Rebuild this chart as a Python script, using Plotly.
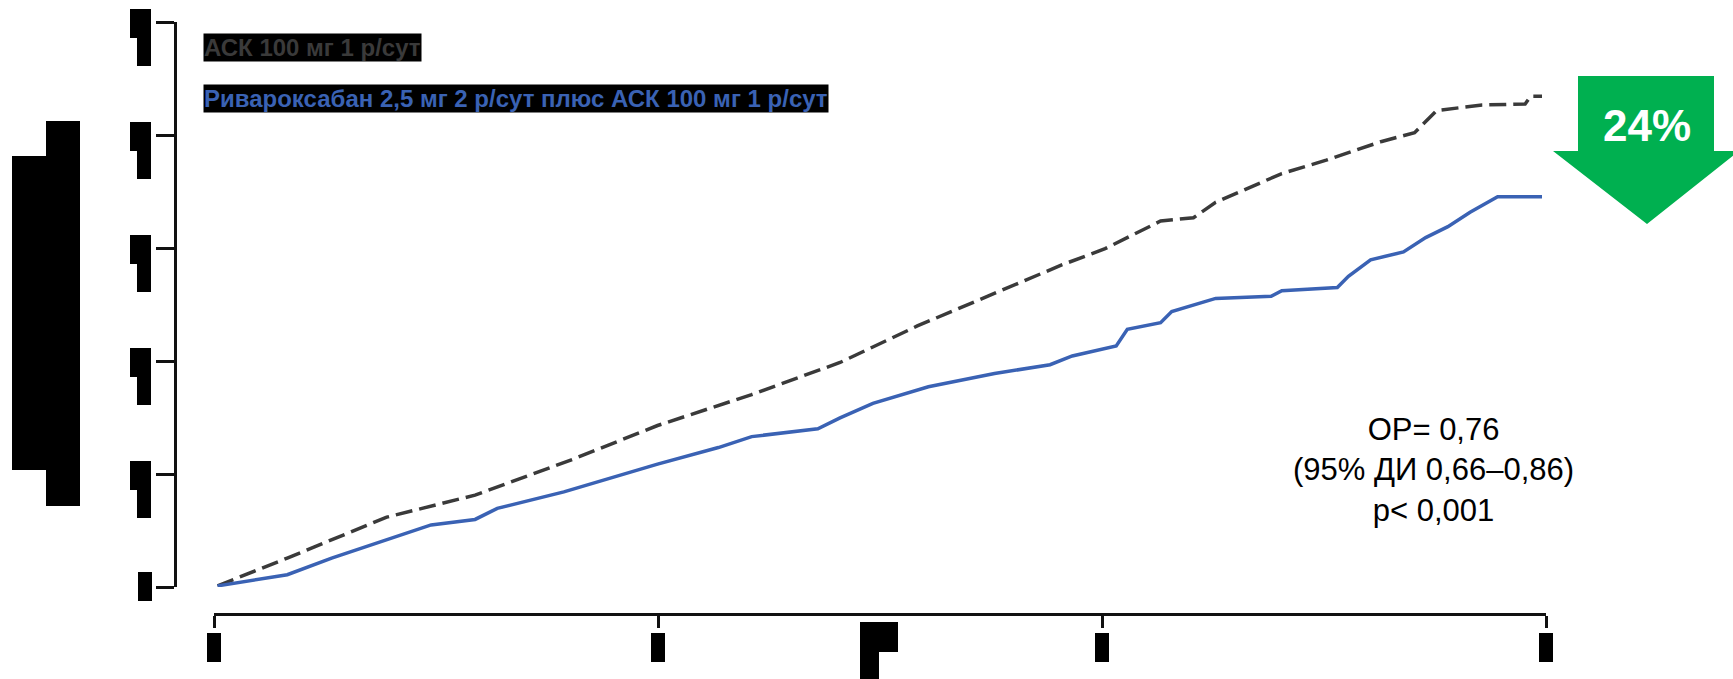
import plotly.graph_objects as go

# ---- data (years, cumulative incidence in tick units) ----
asa_x = [0.008, 0.165, 0.389, 0.588, 0.812, 0.999, 1.211, 1.410, 1.584, 1.758, 1.908,
         2.007, 2.132, 2.206, 2.256, 2.405, 2.505, 2.630, 2.704, 2.754, 2.856, 2.953,
         2.966, 2.991]
asa_y = [0.01, 0.256, 0.618, 0.813, 1.136, 1.429, 1.703, 1.987, 2.310, 2.603, 2.848,
         2.994, 3.239, 3.268, 3.405, 3.659, 3.777, 3.943, 4.021, 4.217, 4.265, 4.275,
         4.344, 4.344]

riva_x = [0.008, 0.165, 0.265, 0.489, 0.588, 0.638, 0.788, 0.999, 1.136, 1.211, 1.360,
          1.410, 1.484, 1.609, 1.758, 1.883, 1.933, 2.032, 2.057, 2.132, 2.157, 2.256,
          2.381, 2.405, 2.530, 2.555, 2.605, 2.679, 2.729, 2.779, 2.829, 2.891, 2.991]
riva_y = [0.01, 0.109, 0.256, 0.549, 0.598, 0.696, 0.842, 1.087, 1.234, 1.331, 1.400,
          1.497, 1.625, 1.772, 1.889, 1.967, 2.045, 2.134, 2.280, 2.339, 2.437, 2.554,
          2.573, 2.622, 2.651, 2.750, 2.896, 2.965, 3.092, 3.189, 3.317, 3.454, 3.454]

x_ticks = [0, 1, 2, 3]
y_ticks = [0, 1, 2, 3, 4, 5]

label_asa = "АСК 100 мг 1 р/сут"
label_riva = "Ривароксабан 2,5 мг 2 р/сут плюс АСК 100 мг 1 р/сут"
stats_text = "ОР= 0,76<br>(95% ДИ 0,66–0,86)<br>p< 0,001"
reduction_text = "24%"

# ---- layout geometry (pixels) ----
W, H = 1733, 679
PL, PR, PT, PB = 175, 1546, 22, 614   # paper box
PW, PH = PR - PL, PB - PT


def px(x):
    return (x - PL) / PW


def py(y):
    return (PB - y) / PH


def path(points):
    return "M " + " L ".join(f"{px(a):.5f},{py(b):.5f}" for a, b in points) + " Z"


fig = go.Figure()
fig.add_trace(go.Scatter(x=asa_x, y=asa_y, mode="lines",
                         line=dict(color="#3a3a3a", width=3.5, dash="17px,7px"),
                         showlegend=False, hoverinfo="skip"))
fig.add_trace(go.Scatter(x=riva_x, y=riva_y, mode="lines",
                         line=dict(color="#3a62b4", width=3.5),
                         showlegend=False, hoverinfo="skip"))

shapes = []
black = dict(type="path", xref="paper", yref="paper", fillcolor="black",
             line=dict(width=0), layer="above")
# redacted y tick labels
for t in [22, 135, 248, 361, 474]:
    shapes.append(dict(black, path=path([(130, t - 13), (151, t - 13), (151, t + 44),
                                         (137, t + 44), (137, t + 16), (130, t + 16)])))
shapes.append(dict(black, path=path([(138, 572), (152, 572), (152, 601), (138, 601)])))
# redacted y title
shapes.append(dict(black, path=path([(46, 121), (80, 121), (80, 506), (46, 506), (46, 470),
                                     (12, 470), (12, 156), (46, 156)])))
# redacted x tick labels
for t in [214, 658, 1102, 1546]:
    shapes.append(dict(black, path=path([(t - 7, 633), (t + 7, 633), (t + 7, 662), (t - 7, 662)])))
# redacted x title
shapes.append(dict(black, path=path([(860, 622), (898, 622), (898, 652), (879, 652),
                                     (879, 679), (860, 679)])))
# green arrow
shapes.append(dict(type="path", xref="paper", yref="paper", fillcolor="#00b050",
                   line=dict(width=0), layer="above",
                   path=path([(1578, 76), (1714, 76), (1714, 151), (1739, 151), (1647, 224),
                              (1553, 151), (1578, 151)])))

annotations = [
    dict(x=px(203), y=py(47.5), xref="paper", yref="paper", xanchor="left", yanchor="middle",
         text=f"<b>{label_asa}</b>", showarrow=False, bgcolor="black", borderpad=0,
         font=dict(family="Liberation Sans, Arial", size=24, color="#3a3a3a")),
    dict(x=px(203), y=py(99), xref="paper", yref="paper", xanchor="left", yanchor="middle",
         text=f"<b>{label_riva}</b>", showarrow=False, bgcolor="black", borderpad=0,
         font=dict(family="Liberation Sans, Arial", size=24, color="#3a62b4")),
    dict(x=px(1433), y=py(470), xref="paper", yref="paper", xanchor="center", yanchor="middle",
         text=stats_text, showarrow=False, align="center",
         font=dict(family="Liberation Sans, Arial", size=31, color="black")),
    dict(x=px(1647), y=py(126), xref="paper", yref="paper", xanchor="center", yanchor="middle",
         text=f"<b>{reduction_text}</b>", showarrow=False,
         font=dict(family="Liberation Sans, Arial", size=44, color="white")),
]

fig.update_layout(
    width=W, height=H,
    margin=dict(l=PL, r=W - PR, t=PT, b=H - PB, autoexpand=False),
    paper_bgcolor="white", plot_bgcolor="white",
    shapes=shapes, annotations=annotations,
    xaxis=dict(domain=[(214 - PL) / PW, 1], anchor="free", position=0, range=[0, 3],
               tickvals=x_ticks, showticklabels=False, ticks="outside", ticklen=12,
               tickwidth=2.5, tickcolor="#111", showline=True, linecolor="#111",
               linewidth=2.5, showgrid=False, zeroline=False, fixedrange=True),
    yaxis=dict(domain=[(PB - 587) / PH, 1], anchor="free", position=0, range=[0, 5],
               tickvals=y_ticks, showticklabels=False, ticks="outside", ticklen=18,
               tickwidth=2.5, tickcolor="#111", showline=True, linecolor="#111",
               linewidth=2.5, showgrid=False, zeroline=False, fixedrange=True),
)

fig.write_html("out.html", config={"displayModeBar": False},
               post_script="document.body.style.margin='0';document.body.style.overflow='hidden';")
